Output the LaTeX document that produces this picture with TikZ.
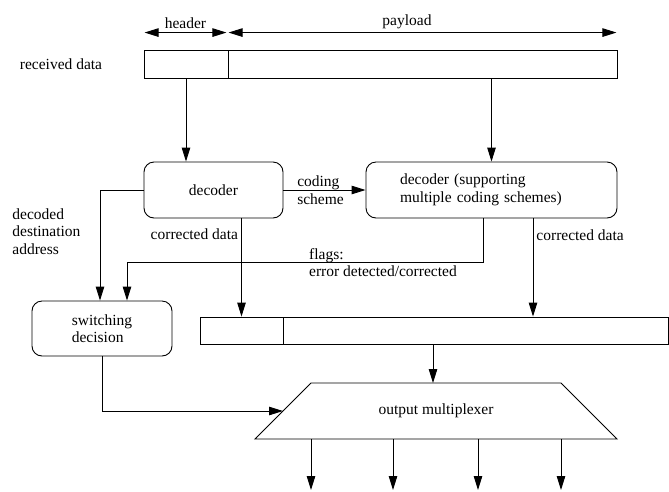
\documentclass[tikz,border=0pt]{standalone}
\usepackage{fontspec}
\setmainfont{Liberation Serif}
\usetikzlibrary{
  shapes.geometric
  , positioning
  , calc
  , arrows.meta
}

\begin{document}
\begin{tikzpicture}[x=1pt,y=-1pt,
    line width=0.9pt, >={Triangle[length=14pt,width=8.5pt]},
    every node/.style={font=\fontsize{15.5}{17.5}\selectfont, inner sep=3pt},
    field/.style={draw, rectangle, inner sep=0pt, minimum height=28pt},
    unit/.style={draw, rectangle, rounded corners=10pt, inner sep=0pt, minimum height=56pt}]
      \useasboundingbox (0,0) rectangle (669,491);

      % received data
      \node [field, minimum width=84pt] (hdr) at (186,64) {};
      \node [field, minimum width=389pt] (pay) at (422.5,64) {};
      \node [left=38pt of hdr] (rx) {received data};
      \draw [<->] ([shift={(1pt,17pt)}]hdr.north west) -- node[above]{header} ([shift={(-2pt,17pt)}]hdr.north east);
      \draw [<->] ([shift={(1pt,17pt)}]pay.north west) -- node[pos=0.46,above]{payload} ([shift={(-1pt,17pt)}]pay.north east);

      % decoders
      \node [unit, minimum width=139pt] (dec) at (213.5,190) {decoder};
      \node [unit, minimum width=251pt, text width=183pt, align=left] (dec2) at (491.5,190)
        {decoder (supporting\\multiple coding schemes)};
      \draw [->] (hdr.south) -- (hdr.south |- dec.north);
      \draw [->] (dec2.north |- pay.south) -- (dec2.north);
      \draw [->] (dec.east) -- node[xshift=-4pt, align=left]{coding\\scheme} (dec2.west);

      % switching
      \node [unit, minimum width=140pt, minimum height=55pt, align=left] (sw) at (102,328.5) {switching\\decision};
      \node [align=left, anchor=west] (addr) at (9,231.5) {decoded\\destination\\address};
      \draw [->] (dec.west) -| ([xshift=-2pt]sw.north);
      \draw [->] ([xshift=-8.5pt]dec2.south) -- ++(0,44)
        -| node[pos=0.249, anchor=west, align=left]{flags:\\error detected/corrected} ([xshift=25pt]sw.north);

      % corrected data buffer
      \node [field, minimum width=83pt, minimum height=27pt] (buf1) at (241.5,330.5) {};
      \node [field, minimum width=385.5pt, minimum height=27pt] (buf2) at (475.75,330.5) {};
      \draw [->] (dec.south -| buf1.north) -- node[pos=0.16, left]{corrected data} (buf1.north);
      \draw [->] ([xshift=41.5pt]dec2.south) -- node[pos=0.17, right]{corrected data} ([xshift=41.5pt]dec2.south |- buf2.north);

      % output multiplexer
      \coordinate (mux sw) at (255,439);
      \coordinate (mux nw) at (311,383);
      \coordinate (mux ne) at (561,383);
      \coordinate (mux se) at (617,439);
      \draw (mux sw) -- (mux nw) -- (mux ne) -- (mux se) -- cycle;
      \node (mux) at (436,411) {output multiplexer};
      \draw [->] ([xshift=-3pt]mux |- buf2.south) -- ([xshift=-3pt]mux |- mux ne);
      \draw [->] (sw.south) |- ($(mux sw)!0.5!(mux nw)$);
      \foreach \x in {311,393,478,561}
        \draw [->] (\x,0 |- mux sw) -- ++(0,51);

    \end{tikzpicture}
\end{document}
